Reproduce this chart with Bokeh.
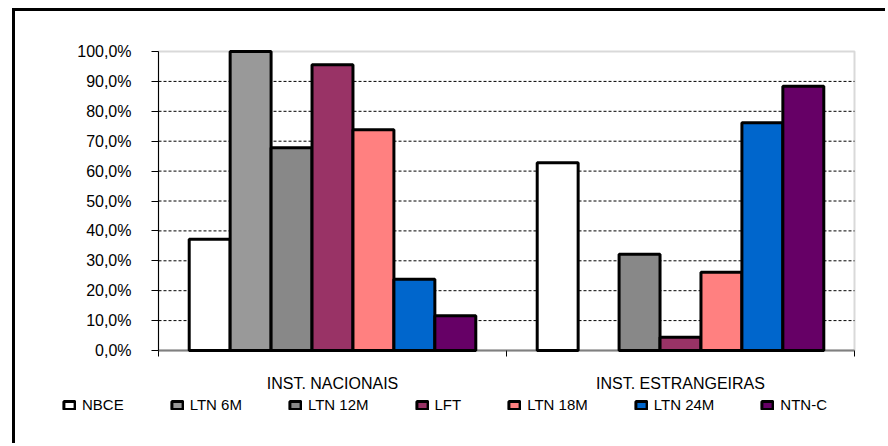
from bokeh.plotting import figure
from bokeh.models import (FixedTicker, Legend, LegendItem, BoxAnnotation,
                          ColumnDataSource, Range1d)
from bokeh.embed import file_html
from bokeh.resources import INLINE

# ---- data ----
categories = ["INST. NACIONAIS", "INST. ESTRANGEIRAS"]
series = ["NBCE", "LTN 6M", "LTN 12M", "LFT", "LTN 18M", "LTN 24M", "NTN-C"]
nacionais = [37.2, 100.0, 67.8, 95.6, 73.8, 23.8, 11.6]
estrangeiras = [62.8, 0.0, 32.2, 4.4, 26.2, 76.2, 88.4]
y_ticks = [0, 10, 20, 30, 40, 50, 60, 70, 80, 90, 100]
y_tick_labels = ["0,0%", "10,0%", "20,0%", "30,0%", "40,0%", "50,0%",
                 "60,0%", "70,0%", "80,0%", "90,0%", "100,0%"]

# ---- styles / layout (pixels) ----
colors = ["#FFFFFF", "#999999", "#888888", "#993366", "#FF8080", "#0066CC", "#660066"]
FONT = "Liberation Sans"
CANVAS_W, CANVAS_H = 873, 435
AREA_L, AREA_R, AREA_T, AREA_B = 143, 839, 40, 339   # plot area inside canvas

ncat = len(categories)
ymax = y_ticks[-1]
x_per_px = ncat / (AREA_R - AREA_L)
y_per_px = ymax / (AREA_B - AREA_T)
x_range = Range1d(-AREA_L * x_per_px, ncat + (CANVAS_W - AREA_R) * x_per_px)
y_range = Range1d(-(CANVAS_H - AREA_B) * y_per_px, ymax + AREA_T * y_per_px)

p = figure(width=CANVAS_W, height=CANVAS_H, output_backend="svg", toolbar_location=None,
           x_range=x_range, y_range=y_range, min_border=0)
p.styles = {"margin-left": "12px", "margin-top": "8px",
            "border-left": "3px solid black", "border-top": "3px solid black"}
p.outline_line_color = None
p.background_fill_color = "white"
p.border_fill_color = "white"
p.xgrid.visible = False
p.ygrid.visible = False

# plot-area border (gray) and dashed gridlines
p.add_layout(BoxAnnotation(left=0, right=ncat, bottom=0, top=ymax, level="underlay",
                           fill_alpha=0, line_color="#808080", line_width=2))
gy = y_ticks[1:-1]
p.segment(x0=[0] * len(gy), x1=[ncat] * len(gy), y0=gy, y1=gy,
          line_color="black", line_width=1, line_dash="3 2")

n = len(series)
bw = 1.0 / (n + 1.5)
renderers = []
for i, name in enumerate(series):
    xs, tops = [], []
    for c, vals in enumerate([nacionais, estrangeiras]):
        if vals[i] > 0:
            xs.append(c + 0.5 + (i - (n - 1) / 2) * bw)
            tops.append(vals[i])
    src = ColumnDataSource(dict(x=xs, top=tops))
    r = p.vbar(x="x", top="top", bottom=0, width=bw, source=src,
               fill_color=colors[i], line_color="black", line_width=3)
    renderers.append(r)

# x axis
xa = p.xaxis[0]
xa.fixed_location = 0
xa.bounds = (0, ncat)
xa.level = "underlay"
xa.ticker = FixedTicker(ticks=[c + 0.5 for c in range(ncat)],
                        minor_ticks=list(range(ncat + 1)))
xa.major_label_overrides = {c + 0.5: lab for c, lab in enumerate(categories)}
xa.major_tick_line_color = None
xa.major_tick_out = 0
xa.major_tick_in = 0
xa.minor_tick_out = 6
xa.minor_tick_in = 0
xa.minor_tick_line_color = "black"
xa.axis_line_color = "#808080"
xa.axis_line_width = 2
xa.major_label_standoff = 18
xa.major_label_text_font = FONT
xa.major_label_text_font_size = "16px"
xa.major_label_text_color = "black"

# y axis
ya = p.yaxis[0]
ya.fixed_location = 0
ya.bounds = (0, ymax)
ya.ticker = FixedTicker(ticks=y_ticks)
ya.major_label_overrides = {t: l for t, l in zip(y_ticks, y_tick_labels)}
ya.minor_tick_line_color = None
ya.major_tick_out = 7
ya.major_tick_in = 0
ya.axis_line_color = "black"
ya.major_label_standoff = 20
ya.major_label_text_font = FONT
ya.major_label_text_font_size = "16px"
ya.major_label_text_color = "black"

legend = Legend(items=[LegendItem(label=s, renderers=[r]) for s, r in zip(series, renderers)],
                location=(47, 33), orientation="horizontal",
                border_line_color=None, background_fill_alpha=0,
                padding=0, margin=0, spacing=46, glyph_width=14, glyph_height=10,
                label_standoff=6, label_text_font=FONT,
                label_text_font_size="15px", label_text_color="black")
p.add_layout(legend, "center")

open("out.html", "w").write(file_html(p, INLINE))
